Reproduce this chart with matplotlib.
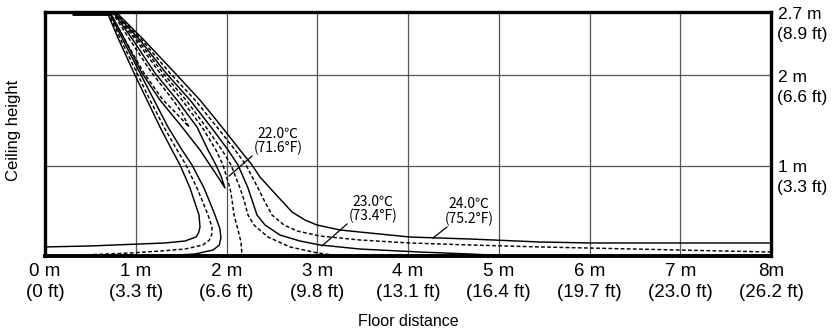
"""
plot.py - Airflow temperature distribution (ceiling height vs floor distance)
"""
import matplotlib
matplotlib.use("Agg")
import matplotlib.pyplot as plt

# ══════════════════════════════════════════════
#  DATA (metres)
# ══════════════════════════════════════════════
x_ticks = [0, 1, 2, 3, 4, 5, 6, 7, 8]
x_tick_labels = ["0 m\n(0 ft)", "1 m\n(3.3 ft)", "2 m\n(6.6 ft)", "3 m\n(9.8 ft)",
                 "4 m\n(13.1 ft)", "5 m\n(16.4 ft)", "6 m\n(19.7 ft)",
                 "7 m\n(23.0 ft)", "8m\n(26.2 ft)"]
y_ticks = [1, 2, 2.7]
y_tick_m = ["1 m", "2 m", "2.7 m"]
y_tick_ft = ["(3.3 ft)", "(6.6 ft)", "(8.9 ft)"]

outlet_x = [0.30, 0.72]
outlet_y = [2.685, 2.685]

# curves that drop and turn left along the floor
l1_x = [0.683, 0.815, 0.981, 1.124, 1.267, 1.399, 1.488, 1.598, 1.642, 1.697, 1.708, 1.692, 1.664, 1.543, 1.322, 1.047, 0.496, 0.0]
l1_y = [2.70, 2.389, 2.024, 1.726, 1.427, 1.173, 1.007, 0.752, 0.619, 0.454, 0.320, 0.255, 0.210, 0.166, 0.144, 0.133, 0.111, 0.100]

l2_x = [0.694, 0.837, 1.014, 1.157, 1.311, 1.455, 1.554, 1.675, 1.730, 1.796, 1.840, 1.838, 1.810, 1.741, 1.543, 1.267, 0.937, 0.419]
l2_y = [2.70, 2.389, 2.024, 1.726, 1.427, 1.173, 1.007, 0.752, 0.619, 0.454, 0.320, 0.240, 0.175, 0.122, 0.077, 0.055, 0.033, 0.011]

l3_x = [0.705, 0.860, 1.047, 1.201, 1.355, 1.510, 1.620, 1.752, 1.807, 1.873, 1.928, 1.938, 1.920, 1.851, 1.653, 1.267]
l3_y = [2.70, 2.389, 2.024, 1.726, 1.427, 1.173, 1.007, 0.752, 0.619, 0.454, 0.300, 0.200, 0.120, 0.066, 0.022, 0.0]

# closed cold-core loops
loop_d_x = [0.716, 0.882, 1.091, 1.300, 1.444, 1.587, 1.510, 1.410, 1.179, 0.937, 0.738]
loop_d_y = [2.70, 2.389, 2.024, 1.726, 1.582, 1.427, 1.582, 1.726, 2.024, 2.389, 2.70]

loop_s_x = [0.716, 0.882, 1.069, 1.267, 1.510, 1.708, 1.818, 1.928, 1.983,
            1.939, 1.884, 1.796, 1.675, 1.455, 1.212, 0.970, 0.749]
loop_s_y = [2.70, 2.389, 2.024, 1.726, 1.427, 1.173, 1.007, 0.841, 0.752,
            0.885, 1.007, 1.173, 1.427, 1.726, 2.024, 2.389, 2.70]

# curve going straight down to the floor
d4_x = [0.738, 1.003, 1.267, 1.510, 1.730, 1.884, 1.961, 2.039, 2.061, 2.083, 2.127, 2.160, 2.171]
d4_y = [2.70, 2.389, 2.024, 1.726, 1.427, 1.173, 1.007, 0.752, 0.619, 0.454, 0.288, 0.155, 0.0]

# curves that spread right along the floor
r1_x = [0.749, 1.025, 1.300, 1.554, 1.774, 1.950, 2.050, 2.149, 2.193, 2.237, 2.303, 2.457, 2.700, 3.008, 3.251]
r1_y = [2.70, 2.389, 2.024, 1.726, 1.427, 1.173, 1.007, 0.752, 0.619, 0.454, 0.343, 0.210, 0.100, 0.033, 0.0]

r2_x = [0.760, 1.047, 1.333, 1.598, 1.829, 2.017, 2.127, 2.237, 2.281, 2.336, 2.424, 2.590, 2.810, 3.030, 3.471, 4.132, 4.683, 5.124]
r2_y = [2.70, 2.389, 2.024, 1.726, 1.427, 1.173, 1.007, 0.752, 0.619, 0.454, 0.343, 0.232, 0.166, 0.122, 0.077, 0.044, 0.022, 0.0]

r3_x = [0.771, 1.069, 1.377, 1.653, 1.895, 2.094, 2.215, 2.347, 2.413, 2.501, 2.634, 2.777, 3.030, 3.471, 4.022, 4.683, 5.455, 6.006, 6.997, 8.0]
r3_y = [2.70, 2.389, 2.024, 1.726, 1.427, 1.173, 1.007, 0.752, 0.619, 0.454, 0.343, 0.277, 0.221, 0.177, 0.144, 0.122, 0.100, 0.088, 0.066, 0.044]

r4_x = [0.782, 1.091, 1.433, 1.708, 1.950, 2.149, 2.281, 2.369, 2.479, 2.601, 2.722, 2.865, 2.997, 3.251, 3.471, 4.022, 4.683, 5.455, 6.006, 6.997, 8.0]
r4_y = [2.70, 2.389, 2.024, 1.726, 1.427, 1.173, 1.007, 0.874, 0.752, 0.619, 0.487, 0.398, 0.343, 0.288, 0.265, 0.210, 0.188, 0.155, 0.144, 0.144, 0.144]

# temperature labels: text, text centre, pointer start/end
label_texts = ["22.0℃\n(71.6°F)", "23.0℃\n(73.4°F)", "24.0℃\n(75.2°F)"]
label_xy = [(2.567, 1.272), (3.614, 0.520), (4.672, 0.494)]
pointer_x = [(2.281, 2.028), (3.328, 3.052), (4.430, 4.275)]
pointer_y = [(1.106, 0.885), (0.354, 0.111), (0.321, 0.199)]

# ══════════════════════════════════════════════
#  FIGURE
# ══════════════════════════════════════════════
fig = plt.figure(figsize=(8.33, 3.32), dpi=100)
ax = fig.add_axes([45 / 833, 76 / 332, 726 / 833, 244 / 332])
ax.set_xlim(0, 8)
ax.set_ylim(0, 2.7)

# grid
for gx in x_ticks[1:-1]:
    ax.axvline(gx, color="#555555", lw=0.9, zorder=1)
for gy in y_ticks[:-1]:
    ax.axhline(gy, color="#555555", lw=0.9, zorder=1)

solid = dict(color="black", lw=1.05, ls="-", zorder=3)
dashed = dict(color="black", lw=1.05, ls=(0, (2.6, 1.6)), zorder=3)

ax.plot(l1_x, l1_y, **solid)
ax.plot(l2_x, l2_y, **dashed)
ax.plot(l3_x, l3_y, **solid)
ax.plot(loop_d_x, loop_d_y, **dashed)
ax.plot(loop_s_x, loop_s_y, **solid)
ax.plot(d4_x, d4_y, **dashed)
ax.plot(r1_x, r1_y, **dashed)
ax.plot(r2_x, r2_y, **solid)
ax.plot(r3_x, r3_y, **dashed)
ax.plot(r4_x, r4_y, **solid)

# ceiling outlet
ax.plot(outlet_x, outlet_y, color="black", lw=3.5, solid_capstyle="butt", zorder=4, clip_on=False)

# labels with pointers
cjk = ["Noto Sans CJK KR", "DejaVu Sans"]
for txt, (tx, ty), px, py in zip(label_texts, label_xy, pointer_x, pointer_y):
    ax.plot(px, py, color="black", lw=0.9, zorder=4)
    ax.text(tx, ty, txt, ha="center", va="center", fontsize=10, family=cjk,
            linespacing=1.05, zorder=5)

# frame
for side in ["left", "right", "top", "bottom"]:
    ax.spines[side].set_linewidth(2.4)
    ax.spines[side].set_color("black")
ax.spines["bottom"].set_linewidth(2.8)

# x ticks
ax.set_xticks(x_ticks)
ax.set_xticklabels(x_tick_labels, family="Liberation Sans", fontsize=13.5, linespacing=1.32)
ax.tick_params(axis="x", length=0, pad=5)

# right y ticks (metres on the tick, feet below)
ax.set_yticks([])
for yv, lm, lf in zip(y_ticks, y_tick_m, y_tick_ft):
    ax.annotate(lm, xy=(8, yv), xytext=(5, -1.5), textcoords="offset points",
                ha="left", va="center", fontsize=12.5, family="Liberation Sans",
                annotation_clip=False)
    ax.annotate(lf, xy=(8, yv), xytext=(4, -16), textcoords="offset points",
                ha="left", va="center", fontsize=12.5, family="Liberation Sans",
                annotation_clip=False)

fig.text(14 / 833, 1 - 130 / 332, "Ceiling height", rotation=90, ha="center", va="center",
         fontsize=12, family="Liberation Sans")
fig.text(408 / 833, 1 - 321 / 332, "Floor distance", ha="center", va="center",
         fontsize=11.5, family="Liberation Sans")

plt.savefig("out.png", dpi=100)
plt.close()
